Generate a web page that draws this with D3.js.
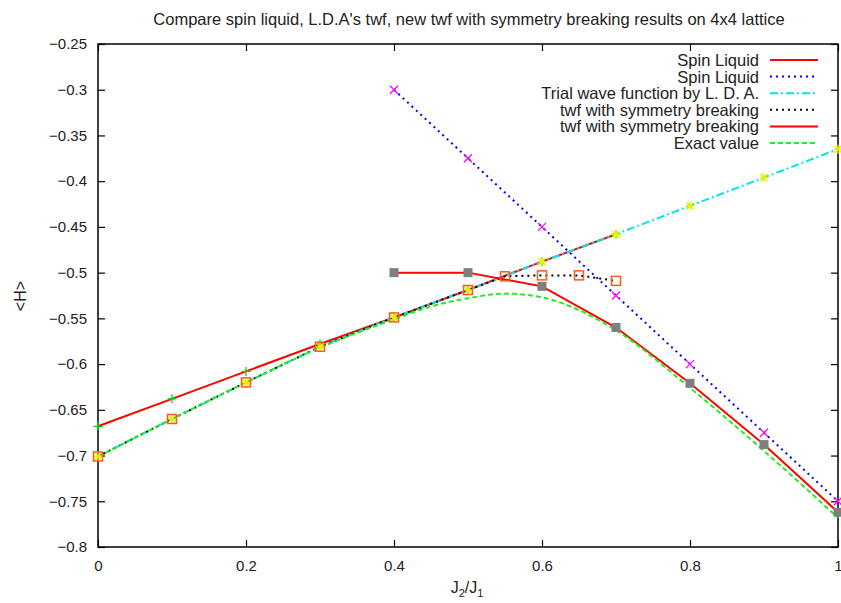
<!DOCTYPE html>
<html>
<head>
<meta charset="utf-8">
<script src="https://cdn.jsdelivr.net/npm/d3@7"></script>
<style>
  body { margin: 0; background: #fff; }
  text { font-family: "Liberation Sans", Arial, sans-serif; }
</style>
</head>
<body>
<div id="chart"></div>
<script>
// chart data
var titleText = "Compare spin liquid, L.D.A's twf, new twf with symmetry breaking results on 4x4 lattice";

var slX = [0, 0.1, 0.2, 0.3, 0.4, 0.5, 0.6, 0.7];
var slY = [-0.668, -0.638, -0.608, -0.578, -0.549, -0.519, -0.488, -0.458];

var sl2X = [0.4, 0.5, 0.6, 0.7, 0.8, 0.9, 1.0];
var sl2Y = [-0.3, -0.375, -0.45, -0.525, -0.6, -0.675, -0.75];

var ldaX = [0, 0.1, 0.2, 0.3, 0.4, 0.5, 0.6, 0.7, 0.8, 0.9, 1.0];
var ldaY = [-0.701, -0.660, -0.620, -0.581, -0.549, -0.519, -0.488, -0.458, -0.427, -0.396, -0.365];

var sbX = [0, 0.1, 0.2, 0.3, 0.4, 0.5, 0.55, 0.6, 0.65, 0.7];
var sbY = [-0.701, -0.660, -0.620, -0.581, -0.549, -0.519, -0.504, -0.503, -0.503, -0.509];

var sb2X = [0.4, 0.5, 0.6, 0.7, 0.8, 0.9, 1.0];
var sb2Y = [-0.5, -0.5, -0.515, -0.56, -0.621, -0.688, -0.762];

var exX = [0, 0.1, 0.2, 0.3, 0.4, 0.45, 0.5, 0.55, 0.6, 0.65, 0.7, 0.8, 0.9, 1.0];
var exY = [-0.701, -0.660, -0.620, -0.582, -0.551, -0.537, -0.528, -0.523, -0.527, -0.541, -0.563, -0.626, -0.695, -0.768];

var xTicks = [0, 0.2, 0.4, 0.6, 0.8, 1];
var yTicks = [-0.8, -0.75, -0.7, -0.65, -0.6, -0.55, -0.5, -0.45, -0.4, -0.35, -0.3, -0.25];

var width = 841, height = 603;
var m = {top: 44, right: 3, bottom: 56, left: 98};

var svg = d3.select('#chart').append('svg')
    .attr('width', width)
    .attr('height', height);

var x = d3.scaleLinear().domain([0, 1]).range([m.left, width - m.right]);
var y = d3.scaleLinear().domain([-0.8, -0.25]).range([height - m.bottom, m.top]);

function pts(xs, ys) { return xs.map(function(v, i) { return [v, ys[i]]; }); }

// markers
function plus(s) { return 'M' + (-s) + ',0H' + s + 'M0,' + (-s) + 'V' + s; }
function cross(s) { return 'M' + (-s) + ',' + (-s) + 'L' + s + ',' + s + 'M' + (-s) + ',' + s + 'L' + s + ',' + (-s); }
function star(s) { return plus(s) + cross(s * 0.8); }

var series = [
  {name: 'Spin Liquid', data: pts(slX, slY), color: '#ff0000', dash: null, width: 2,
   mark: {path: plus(4.5), stroke: '#00dd00', fill: 'none'}},
  {name: 'Spin Liquid', data: pts(sl2X, sl2Y), color: '#0000ff', dash: '2,4', width: 2,
   mark: {path: cross(4), stroke: '#ff00ff', fill: 'none'}},
  {name: 'Trial wave function by L. D. A.', data: pts(ldaX, ldaY), color: '#00e5ee', dash: '8,3,2,3', width: 2,
   mark: {path: star(4.5), stroke: '#eeee00', fill: 'none'}},
  {name: 'twf with symmetry breaking', data: pts(sbX, sbY), color: '#000000', dash: '2,4', width: 2,
   mark: {rect: 4.5, stroke: '#ff5a1e', fill: 'none'}},
  {name: 'twf with symmetry breaking', data: pts(sb2X, sb2Y), color: '#ff0000', dash: null, width: 2,
   mark: {rect: 4.5, stroke: 'none', fill: '#7f7f7f'}},
  {name: 'Exact value', data: pts(exX, exY), color: '#22ee22', dash: '5,3', width: 2, curve: true, mark: null}
];

// axes (gnuplot style: ticks inward, mirrored)
var tickLen = 7;
var gx = svg.append('g').attr('transform', 'translate(0,' + y(-0.8) + ')')
    .call(d3.axisBottom(x).tickValues(xTicks).tickSize(-tickLen).tickPadding(tickLen + 6)
      .tickFormat(function(d) { return d3.format('')(d); }));
var gxt = svg.append('g').attr('transform', 'translate(0,' + y(-0.25) + ')')
    .call(d3.axisTop(x).tickValues(xTicks).tickSize(-tickLen).tickFormat(''));
var gy = svg.append('g').attr('transform', 'translate(' + x(0) + ',0)')
    .call(d3.axisLeft(y).tickValues(yTicks).tickSize(-tickLen).tickPadding(tickLen + 4)
      .tickFormat(function(d) { return d3.format('')(+d.toFixed(2)); }));
var gyr = svg.append('g').attr('transform', 'translate(' + x(1) + ',0)')
    .call(d3.axisRight(y).tickValues(yTicks).tickSize(-tickLen).tickFormat(''));

[gx, gxt, gy, gyr].forEach(function(g) {
  g.select('.domain').remove();
  g.selectAll('.tick line').attr('stroke', '#000').attr('stroke-width', 1.2);
  g.selectAll('.tick text').attr('font-size', 15).attr('fill', '#222')
    .attr('font-family', '"Liberation Sans", Arial, sans-serif');
});

svg.append('rect')
    .attr('x', x(0)).attr('y', y(-0.25))
    .attr('width', x(1) - x(0)).attr('height', y(-0.8) - y(-0.25))
    .attr('fill', 'none').attr('stroke', '#000').attr('stroke-width', 1.5);

// lines
var plot = svg.append('g');
series.forEach(function(s) {
  var line = d3.line()
      .x(function(d) { return x(d[0]); })
      .y(function(d) { return y(d[1]); })
      .curve(s.curve ? d3.curveMonotoneX : d3.curveLinear);
  plot.append('path')
      .datum(s.data)
      .attr('d', line)
      .attr('fill', 'none')
      .attr('stroke', s.color)
      .attr('stroke-width', s.width)
      .attr('stroke-dasharray', s.dash);
});

// points
series.forEach(function(s) {
  if (!s.mark) return;
  var g = plot.append('g');
  var sel = g.selectAll('.pt').data(s.data).enter();
  if (s.mark.rect) {
    var r = s.mark.rect;
    sel.append('rect')
        .attr('x', function(d) { return x(d[0]) - r; })
        .attr('y', function(d) { return y(d[1]) - r; })
        .attr('width', r * 2).attr('height', r * 2)
        .attr('fill', s.mark.fill)
        .attr('stroke', s.mark.stroke)
        .attr('stroke-width', 1.5);
  } else {
    sel.append('path')
        .attr('transform', function(d) { return 'translate(' + x(d[0]) + ',' + y(d[1]) + ')'; })
        .attr('d', s.mark.path)
        .attr('fill', 'none')
        .attr('stroke', s.mark.stroke)
        .attr('stroke-width', 1.3);
  }
});

// legend
var leg = svg.append('g');
series.forEach(function(s, i) {
  var yy = 60 + i * 16.6;
  leg.append('text')
      .attr('x', 759).attr('y', yy + 6)
      .attr('text-anchor', 'end')
      .attr('font-size', 16.5).attr('fill', '#222')
      .text(s.name);
  leg.append('line')
      .attr('x1', 770).attr('x2', 818)
      .attr('y1', yy).attr('y2', yy)
      .attr('stroke', s.color)
      .attr('stroke-width', s.width)
      .attr('stroke-dasharray', s.dash);
});

// title and axis labels
svg.append('text')
    .attr('x', 469).attr('y', 25)
    .attr('text-anchor', 'middle')
    .attr('font-size', 16.5).attr('fill', '#222')
    .text(titleText);

var xl = svg.append('text')
    .attr('x', 467).attr('y', 593)
    .attr('text-anchor', 'middle')
    .attr('font-size', 16).attr('fill', '#222');
xl.append('tspan').text('J');
xl.append('tspan').attr('dy', 4).attr('font-size', 11).text('2');
xl.append('tspan').attr('dy', -4).text('/J');
xl.append('tspan').attr('dy', 4).attr('font-size', 11).text('1');

svg.append('text')
    .attr('transform', 'translate(26,296) rotate(-90)')
    .attr('text-anchor', 'middle')
    .attr('font-size', 16).attr('fill', '#222')
    .text('<H>');
</script>
</body>
</html>
